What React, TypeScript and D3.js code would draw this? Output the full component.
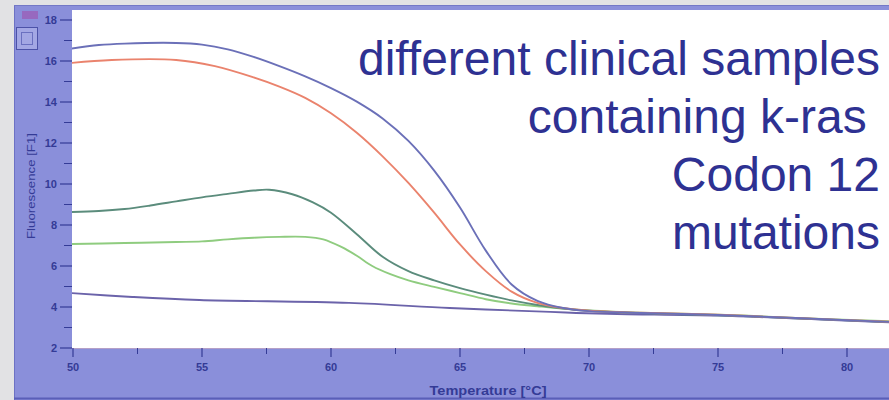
import React from "react";
import * as d3 from "d3";

// Melting curves, fluorescence vs temperature (°C)
const blueTemps = [49.9, 51, 52, 54, 55, 56, 57, 58, 59, 60, 61, 62, 63, 64, 65, 66, 67, 68, 69, 70, 72, 75, 78, 81.7];
const blueVals = [16.6, 16.78, 16.85, 16.88, 16.8, 16.57, 16.2, 15.75, 15.25, 14.68, 14.02, 13.2, 12.1, 10.65, 8.85, 6.75, 5.1, 4.3, 3.95, 3.8, 3.71, 3.61, 3.46, 3.27];

const redTemps = [49.9, 51.5, 54, 55.5, 57, 58, 59, 60, 61, 62, 63, 64, 65, 66, 67, 68, 69, 70, 72, 75, 78, 81.7];
const redVals = [15.9, 16.05, 16.05, 15.75, 15.2, 14.75, 14.2, 13.45, 12.5, 11.35, 10.05, 8.6, 7.05, 5.75, 4.75, 4.2, 3.95, 3.82, 3.72, 3.62, 3.46, 3.28];

const tealTemps = [49.9, 51, 52, 53, 54, 55, 56, 57, 57.6, 58.5, 59.3, 60, 61, 62, 63, 64, 65, 66, 67, 68, 69, 70, 72, 75, 78, 81.7];
const tealVals = [8.63, 8.68, 8.78, 8.95, 9.15, 9.35, 9.52, 9.68, 9.72, 9.5, 9.1, 8.6, 7.55, 6.45, 5.75, 5.3, 4.92, 4.6, 4.32, 4.1, 3.93, 3.82, 3.7, 3.6, 3.45, 3.26];

const greenTemps = [49.9, 52, 54, 55, 56, 57, 58, 59, 59.7, 60.4, 61, 61.6, 62.3, 63, 64, 65, 66, 67, 68, 69, 70, 72, 75, 78, 81.7];
const greenVals = [7.07, 7.12, 7.17, 7.2, 7.3, 7.38, 7.42, 7.42, 7.3, 6.93, 6.5, 6.0, 5.6, 5.3, 4.98, 4.68, 4.38, 4.17, 4.04, 3.92, 3.83, 3.72, 3.63, 3.47, 3.3];

const baseTemps = [49.9, 52.3, 54.9, 60.7, 64.6, 68.5, 69.5, 71.1, 75.0, 78.8, 81.7];
const baseVals = [4.68, 4.49, 4.34, 4.2, 3.95, 3.76, 3.71, 3.66, 3.58, 3.4, 3.25];

const xTicks = [50, 55, 60, 65, 70, 75, 80];
const xMinor = [52.5, 57.5, 62.5, 67.5, 72.5, 77.5];
const yTicks = [2, 4, 6, 8, 10, 12, 14, 16, 18];
const yMinor = [3, 5, 7, 9, 11, 13, 15, 17];

const noteLines = ["different clinical samples", "containing k-ras\u00a0", "Codon 12", "mutations"];

const W = 889;
const H = 400;
const plot = { left: 72, top: 10, right: 889, bottom: 348 };

const x = d3.scaleLinear().domain([50, 80]).range([73, 847]);
const y = d3.scaleLinear().domain([2, 18]).range([348, 20]);

const series = [
  { t: baseTemps, v: baseVals, color: "#6b63aa" },
  { t: greenTemps, v: greenVals, color: "#8fcc7f" },
  { t: tealTemps, v: tealVals, color: "#5b8c7c" },
  { t: redTemps, v: redVals, color: "#ea836d" },
  { t: blueTemps, v: blueVals, color: "#6b70b8" },
];

const line = d3
  .line<[number, number]>()
  .x((d) => x(d[0]))
  .y((d) => y(d[1]))
  .curve(d3.curveCatmullRom.alpha(0.5));

const axisColor = "#343b96";

export default function App() {
  return (
    <svg
      width={W}
      height={H}
      style={{ position: "absolute", left: 0, top: 0, display: "block" }}
      fontFamily="'Liberation Sans', Arial, sans-serif"
    >
      <rect x={0} y={0} width={W} height={H} fill="#e2e2e4" />
      {/* instrument panel */}
      <rect x={14} y={5} width={W - 14} height={H - 5} fill="#8a8fda" />
      <line x1={14.5} y1={5} x2={14.5} y2={H} stroke="#6d72c4" />
      <line x1={14} y1={5.5} x2={W} y2={5.5} stroke="#7378c6" />
      <line x1={14} y1={398.5} x2={W} y2={398.5} stroke="#5a5fb8" strokeWidth={2} />

      {/* corner widgets */}
      <rect x={22} y={11} width={16} height={8} fill="#9a5fb8" opacity={0.8} />
      <rect x={16.5} y={27.5} width={21} height={22} fill="#a3a7e4" stroke="#4c52a8" />
      <rect x={21.5} y={32.5} width={11} height={12} fill="none" stroke="#6a70c0" />

      {/* plot area */}
      <rect x={plot.left} y={plot.top} width={plot.right - plot.left} height={plot.bottom - plot.top} fill="#ffffff" />
      <line x1={plot.left} y1={plot.bottom + 0.5} x2={plot.right} y2={plot.bottom + 0.5} stroke="#b4a0c8" />

      <defs>
        <clipPath id="plotClip">
          <rect x={plot.left} y={plot.top} width={plot.right - plot.left} height={plot.bottom - plot.top} />
        </clipPath>
      </defs>

      <g clipPath="url(#plotClip)">
        {series.map((s, i) => (
          <path
            key={i}
            d={line(s.t.map((t, j) => [t, s.v[j]] as [number, number])) || ""}
            fill="none"
            stroke={s.color}
            strokeWidth={1.9}
          />
        ))}
      </g>

      {/* y axis */}
      {yTicks.map((v) => (
        <g key={"y" + v}>
          <line x1={60} x2={plot.left} y1={y(v)} y2={y(v)} stroke={axisColor} strokeWidth={1.2} />
          <text x={57} y={y(v)} dy="0.35em" textAnchor="end" fontSize={11} fontWeight="bold" fill={axisColor}>
            {v}
          </text>
        </g>
      ))}
      {yMinor.map((v) => (
        <line key={"ym" + v} x1={64} x2={plot.left} y1={y(v)} y2={y(v)} stroke={axisColor} strokeWidth={1} />
      ))}
      <text
        transform="translate(31,186) rotate(-90)"
        textAnchor="middle"
        dy="0.35em"
        fontSize={10}
        fill={axisColor}
        textLength={106}
        lengthAdjust="spacingAndGlyphs"
      >
        Fluorescence [F1]
      </text>

      {/* x axis */}
      {xTicks.map((t) => (
        <g key={"x" + t}>
          <line x1={x(t)} x2={x(t)} y1={plot.bottom} y2={plot.bottom + 9} stroke={axisColor} strokeWidth={1.2} />
          <text x={x(t)} y={367} dy="0.35em" textAnchor="middle" fontSize={11} fontWeight="bold" fill={axisColor}>
            {t}
          </text>
        </g>
      ))}
      {xMinor.map((t) => (
        <line key={"xm" + t} x1={x(t)} x2={x(t)} y1={plot.bottom} y2={plot.bottom + 6} stroke={axisColor} strokeWidth={1} />
      ))}
      <text
        x={488}
        y={391}
        dy="0.35em"
        textAnchor="middle"
        fontSize={12}
        fontWeight="bold"
        fill={axisColor}
        textLength={117}
        lengthAdjust="spacingAndGlyphs"
      >
        Temperature [°C]
      </text>

      {/* annotation */}
      {noteLines.map((s, i) => (
        <text
          key={"n" + i}
          x={880}
          y={75 + i * 58}
          textAnchor="end"
          fontSize={48}
          fill="#2e3192"
          style={{ whiteSpace: "pre" }}
        >
          {s}
        </text>
      ))}
    </svg>
  );
}
